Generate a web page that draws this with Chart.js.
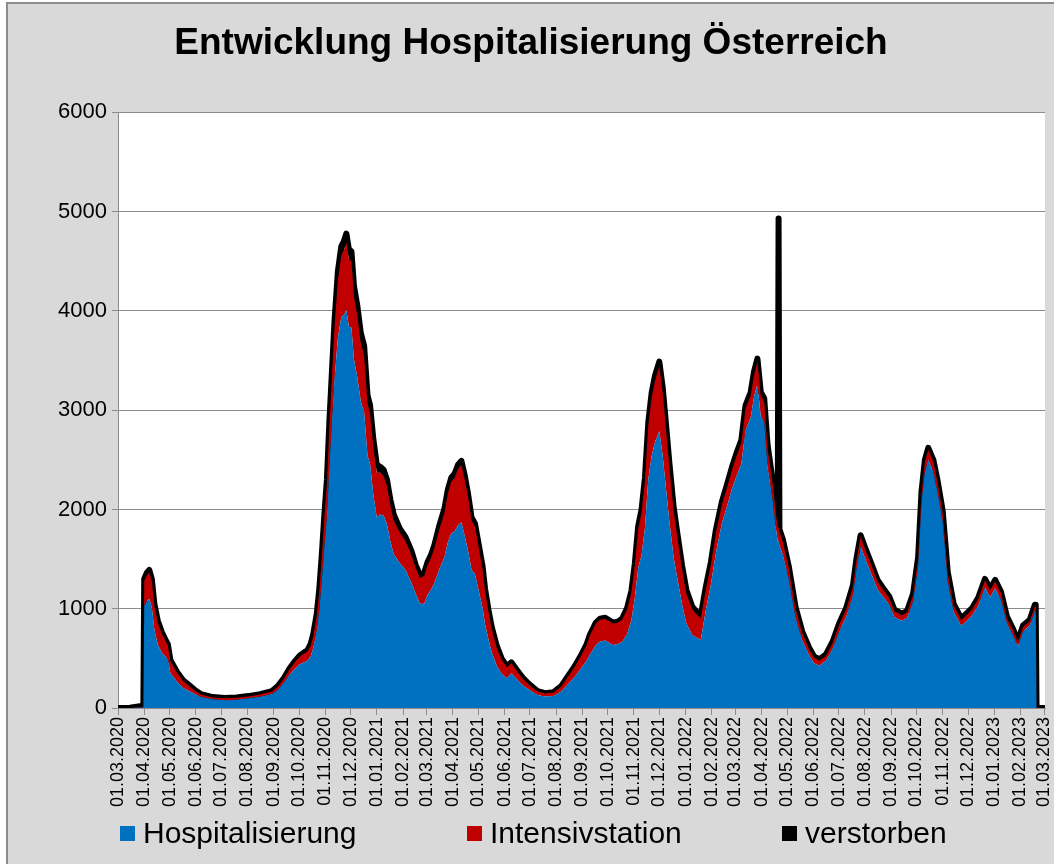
<!DOCTYPE html>
<html>
<head>
<meta charset="utf-8">
<title>Entwicklung Hospitalisierung Österreich</title>
<script src="https://cdn.jsdelivr.net/npm/chart.js@4.4.1/dist/chart.umd.min.js"></script>
<style>
    html, body { margin: 0; padding: 0; background: #fff; }
    #frame {
        position: absolute; left: 6px; top: 2px; width: 1048px; height: 862px;
        background: #d9d9d9; border-top: 2px solid #8c8c8c; border-left: 2px solid #8c8c8c;
        box-sizing: border-box;
    }
    #chart { position: absolute; left: 0; top: 0; }
    .legend-item {
        position: absolute; top: 818px; height: 30px;
        font: 30px 'Liberation Sans', Arial, sans-serif; line-height: 30px;
        white-space: nowrap; color: #000;
    }
    .legend-box { position: absolute; left: 0; top: 8px; width: 15px; height: 15px; }
    .legend-text { position: absolute; left: 23px; top: 0; }
</style>
</head>
<body>
<div id="frame"></div>
<canvas id="chart" width="1054" height="864"></canvas>
<div id="legend"></div>

<script>
/* Daten: Tage seit 01.03.2020 */
const days = [
    0, 14, 28, 30, 31, 34, 37, 40, 43, 47,
    52, 56, 59, 62, 66, 70, 77, 84, 91, 98,
    112, 126, 140, 154, 168, 182, 189, 196, 203, 210,
    215, 220, 224, 228, 231, 235, 238, 241, 244, 247,
    250, 253, 256, 260, 264, 267, 270, 273, 276, 279,
    283, 287, 291, 295, 298, 302, 306, 310, 314, 318,
    322, 326, 333, 340, 347, 352, 357, 362, 366, 370,
    374, 380, 386, 390, 394, 398, 402, 406, 410, 414,
    418, 422, 426, 431, 434, 438, 442, 448, 454, 460,
    465, 471, 479, 486, 496, 505, 515, 524, 532, 540,
    548, 554, 558, 565, 570, 576, 585, 591, 596, 602,
    607, 611, 615, 619, 623, 627, 631, 635, 640, 644,
    648, 652, 657, 661, 667, 672, 679, 685, 689, 695,
    701, 707, 714, 720, 726, 731, 737, 742, 748, 752,
    756, 760, 764, 768, 774, 778, 780, 781, 782, 786,
    793, 801, 809, 817, 823, 829, 837, 845, 853, 861,
    869, 873, 878, 884, 890, 898, 906, 912, 918, 927,
    933, 940, 946, 950, 954, 958, 964, 969, 975, 981,
    988, 997, 1003, 1010, 1017, 1025, 1031, 1037, 1044, 1051,
    1058, 1064, 1070, 1078, 1084, 1085, 1086, 1096
];

const hospital = [
    0, 0, 5, 8, 1030, 1075, 1100, 1015, 788, 640,
    555, 518, 488, 348, 307, 262, 202, 172, 140, 110,
    87, 79, 84, 97, 114, 140, 185, 254, 338, 402,
    440, 460, 475, 525, 610, 780, 990, 1290, 1630, 1915,
    2455, 2880, 3320, 3730, 3940, 3960, 4010, 3840, 3830, 3510,
    3330, 3090, 2980, 2540, 2460, 2140, 1920, 1950, 1940, 1850,
    1680, 1550, 1460, 1390, 1260, 1150, 1050, 1050, 1140, 1190,
    1260, 1400, 1520, 1670, 1760, 1780, 1840, 1870, 1730, 1580,
    1390, 1350, 1200, 1010, 840, 690, 560, 420, 340, 300,
    350, 295, 225, 185, 130, 115, 120, 165, 240, 315,
    405, 475, 540, 635, 670, 680, 635, 645, 665, 745,
    885, 1105, 1410, 1540, 1810, 2310, 2540, 2680, 2790, 2540,
    2200, 1870, 1510, 1320, 1040, 850, 735, 705, 685, 985,
    1245, 1570, 1860, 2030, 2210, 2330, 2460, 2800, 2925, 3135,
    3265, 2935, 2885, 2425, 2090, 1800, 1680, 1680, 1635, 1545,
    1305, 915, 680, 535, 450, 425, 475, 600, 780, 920,
    1140, 1395, 1630, 1490, 1365, 1195, 1105, 1040, 915, 880,
    910, 1075, 1425, 2070, 2380, 2495, 2375, 2170, 1880, 1280,
    970, 825, 875, 935, 1030, 1215, 1115, 1205, 1090, 850,
    735, 620, 770, 830, 980, 980, 0, 0
];

const icu = [
    0, 0, 5, 7, 250, 260, 265, 260, 240, 220,
    190, 160, 140, 120, 105, 90, 70, 50, 35, 25,
    20, 18, 18, 20, 22, 25, 30, 40, 55, 70,
    80, 90, 95, 105, 120, 150, 180, 230, 290, 340,
    400, 460, 520, 580, 620, 650, 680, 680, 670, 640,
    620, 590, 570, 530, 510, 480, 450, 420, 400, 390,
    360, 340, 310, 290, 280, 260, 260, 280, 300, 320,
    350, 400, 450, 490, 520, 540, 570, 580, 570, 540,
    500, 480, 440, 390, 340, 280, 230, 180, 140, 110,
    100, 85, 65, 50, 35, 30, 35, 50, 75, 100,
    130, 160, 190, 215, 220, 220, 215, 215, 225, 250,
    280, 330, 390, 430, 480, 540, 590, 620, 650, 640,
    600, 540, 470, 420, 350, 300, 260, 230, 220, 210,
    200, 200, 190, 190, 190, 200, 210, 220, 220, 220,
    220, 210, 200, 190, 170, 150, 140, 140, 140, 130,
    110, 90, 75, 60, 55, 50, 50, 55, 65, 75,
    85, 90, 95, 95, 90, 80, 70, 65, 60, 55,
    55, 60, 75, 90, 100, 105, 105, 100, 90, 75,
    65, 60, 60, 60, 65, 70, 70, 70, 65, 55,
    50, 45, 45, 45, 45, 45, 0, 0
];

const deaths = [
    0, 2, 10, 10, 20, 25, 25, 25, 22, 20,
    15, 12, 12, 12, 8, 8, 8, 8, 5, 5,
    3, 3, 3, 3, 4, 5, 5, 6, 7, 8,
    10, 10, 10, 20, 20, 20, 30, 30, 30, 45,
    45, 60, 60, 90, 90, 90, 90, 100, 100, 100,
    100, 100, 100, 80, 80, 80, 80, 60, 60, 60,
    60, 60, 40, 40, 40, 30, 30, 30, 30, 30,
    30, 40, 40, 40, 40, 40, 40, 40, 40, 30,
    30, 30, 30, 30, 20, 20, 20, 20, 10, 10,
    10, 10, 10, 5, 5, 5, 5, 5, 5, 5,
    5, 5, 10, 10, 10, 10, 10, 10, 10, 15,
    15, 15, 30, 30, 30, 30, 50, 50, 50, 50,
    50, 50, 40, 40, 40, 40, 25, 25, 25, 25,
    25, 30, 30, 30, 30, 30, 30, 30, 35, 35,
    35, 35, 35, 35, 30, 30, 30, 3110, 25, 25,
    15, 15, 15, 15, 15, 15, 15, 15, 15, 15,
    15, 15, 15, 15, 15, 15, 15, 15, 15, 15,
    15, 15, 20, 20, 20, 20, 20, 20, 20, 15,
    15, 15, 15, 15, 15, 15, 15, 15, 15, 15,
    15, 15, 15, 15, 15, 15, 0, 0
];

const tickLabels = [
    '01.03.2020', '01.04.2020', '01.05.2020', '01.06.2020', '01.07.2020', '01.08.2020',
    '01.09.2020', '01.10.2020', '01.11.2020', '01.12.2020', '01.01.2021', '01.02.2021',
    '01.03.2021', '01.04.2021', '01.05.2021', '01.06.2021', '01.07.2021', '01.08.2021',
    '01.09.2021', '01.10.2021', '01.11.2021', '01.12.2021', '01.01.2022', '01.02.2022',
    '01.03.2022', '01.04.2022', '01.05.2022', '01.06.2022', '01.07.2022', '01.08.2022',
    '01.09.2022', '01.10.2022', '01.11.2022', '01.12.2022', '01.01.2023', '01.02.2023',
    '01.03.2023'
];

const seriesNames = ['Hospitalisierung', 'Intensivstation', 'verstorben'];
const seriesColors = ['#0070C0', '#C00000', '#000000'];

const FONT = "'Liberation Sans', Arial, sans-serif";
const DAY_MS = 86400000;
const startUtc = Date.UTC(2020, 2, 1);

// Tick-Positionen (Tage seit Start) aus den Datumsstrings
const tickDays = tickLabels.map(s => {
    const [d, m, y] = s.split('.').map(Number);
    return Math.round((Date.UTC(y, m - 1, d) - startUtc) / DAY_MS);
});

function toPoints(values) {
    return days.map((d, i) => ({ x: d, y: values[i] }));
}

const plotBackground = {
    id: 'plotBackground',
    beforeDraw(chart) {
        const { ctx, chartArea } = chart;
        ctx.save();
        ctx.fillStyle = '#ffffff';
        ctx.fillRect(chartArea.left, chartArea.top,
            chartArea.right - chartArea.left, chartArea.bottom - chartArea.top);
        ctx.restore();
    }
};

const ctx = document.getElementById('chart').getContext('2d');

const chart = new Chart(ctx, {
    type: 'line',
    data: {
        datasets: [
            {
                label: seriesNames[0],
                data: toPoints(hospital),
                backgroundColor: seriesColors[0],
                borderWidth: 0,
                fill: 'origin'
            },
            {
                label: seriesNames[1],
                data: toPoints(icu),
                backgroundColor: seriesColors[1],
                borderWidth: 0,
                fill: '-1'
            },
            {
                label: seriesNames[2],
                data: toPoints(deaths),
                backgroundColor: seriesColors[2],
                borderColor: seriesColors[2],
                borderWidth: 6,
                borderJoinStyle: 'round',
                fill: '-1'
            }
        ]
    },
    options: {
        responsive: false,
        animation: false,
        devicePixelRatio: 1,
        // left/right padding keeps the title centred like the original
        layout: { padding: { left: 17, right: 9, top: 0, bottom: 0 } },
        elements: {
            point: { radius: 0, hoverRadius: 0 },
            line: { tension: 0 }
        },
        plugins: {
            legend: { display: false },
            tooltip: { enabled: false },
            title: {
                display: true,
                text: 'Entwicklung Hospitalisierung Österreich',
                color: '#000',
                font: { family: FONT, size: 37, weight: 'bold' },
                padding: { top: 22, bottom: 46 }
            }
        },
        scales: {
            x: {
                type: 'linear',
                min: 0,
                max: 1096,
                afterBuildTicks: scale => {
                    scale.ticks = tickDays.map(v => ({ value: v }));
                },
                afterFit: scale => {
                    scale.height = 156;
                    scale.paddingLeft = 0;
                    scale.paddingRight = 0;
                },
                ticks: {
                    autoSkip: false,
                    minRotation: 90,
                    maxRotation: 90,
                    padding: 2,
                    color: '#000',
                    font: { family: FONT, size: 18 },
                    callback: (value, index) => tickLabels[index]
                },
                grid: {
                    drawOnChartArea: false,
                    drawTicks: true,
                    tickLength: 7,
                    color: '#8c8c8c'
                },
                border: { color: '#8c8c8c', width: 1 }
            },
            y: {
                stacked: true,
                min: 0,
                max: 6000,
                afterFit: scale => {
                    scale.width = 101;
                    scale.paddingTop = 0;
                    scale.paddingBottom = 0;
                },
                ticks: {
                    stepSize: 1000,
                    padding: 5,
                    color: '#000',
                    font: { family: FONT, size: 22 },
                    callback: value => String(value)
                },
                grid: { color: '#8c8c8c', tickLength: 6 },
                border: { color: '#8c8c8c', width: 1 }
            }
        }
    },
    plugins: [plotBackground]
});

// Legende unter dem Diagramm
const legendX = [120, 467, 782];
document.getElementById('legend').innerHTML = seriesNames.map((name, i) => `
    <div class="legend-item" style="left:${legendX[i]}px">
        <span class="legend-box" style="background:${seriesColors[i]}"></span>
        <span class="legend-text">${name}</span>
    </div>
`).join('');
</script>
</body>
</html>
